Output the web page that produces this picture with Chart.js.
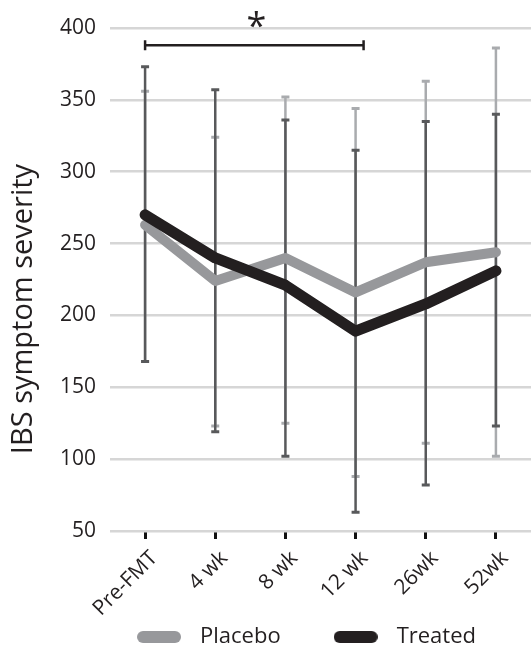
<!DOCTYPE html>
<html>
<head>
<meta charset="utf-8">
<script src="https://cdn.jsdelivr.net/npm/chart.js@4/dist/chart.umd.min.js"></script>
<style>
  html, body { margin: 0; padding: 0; background: #ffffff; }
  #wrap { width: 531px; height: 648px; }
</style>
</head>
<body>
<div id="wrap"><canvas id="c" width="531" height="648"></canvas></div>
<script>
// Time points after faecal microbiota transplantation
const categories = ['Pre-FMT', '4 wk', '8 wk', '12 wk', '26wk', '52wk'];

// Mean IBS symptom severity per group
const placeboMean = [263, 224, 240, 216, 237, 244];
const treatedMean = [270, 240, 221, 189, 208, 231];

// Error bar ends per group
const placeboLow  = [168, 123, 125, 88, 111, 102];
const placeboHigh = [356, 324, 352, 344, 363, 386];
const treatedLow  = [168, 119, 102, 63, 82, 123];
const treatedHigh = [373, 357, 336, 315, 335, 340];

// Significance bracket (Treated, Pre-FMT vs 12 wk)
const sigFrom = 'Pre-FMT';
const sigTo = '12 wk';
const sigLevel = 388;
const sigStarLevel = 405;
const sigLabel = '*';

const yTitle = 'IBS symptom severity';

const PLACEBO = '#97989b';
const TREATED = '#231f20';
const PLACEBO_BAR = '#a9abae';
const TREATED_BAR = '#58595b';
const TEXT = '#231f20';
const FONT = "'Open Sans', 'Noto Sans', sans-serif";

// Rounded legend swatch, drawn once per series
function pill(color) {
  const c = document.createElement('canvas');
  c.width = 44; c.height = 12;
  const g = c.getContext('2d');
  g.fillStyle = color;
  g.beginPath();
  g.roundRect(0, 0, 44, 12, 6);
  g.fill();
  return c;
}
const swatches = { Placebo: pill(PLACEBO), Treated: pill(TREATED) };

// Vertical whiskers with small caps, drawn behind the mean lines
const errorBars = {
  id: 'errorBars',
  beforeDatasetsDraw(chart) {
    const { ctx, scales: { x, y } } = chart;
    const drawSet = (lows, highs, color, width, capHalf) => {
      ctx.save();
      ctx.strokeStyle = color;
      ctx.lineCap = 'butt';
      lows.forEach((lo, i) => {
        const px = x.getPixelForValue(i);
        const yl = y.getPixelForValue(lo);
        const yh = y.getPixelForValue(highs[i]);
        ctx.lineWidth = width;
        ctx.beginPath();
        ctx.moveTo(px, yl);
        ctx.lineTo(px, yh);
        ctx.stroke();
        ctx.lineWidth = 3;
        ctx.beginPath();
        ctx.moveTo(px - capHalf, yl); ctx.lineTo(px + capHalf, yl);
        ctx.moveTo(px - capHalf, yh); ctx.lineTo(px + capHalf, yh);
        ctx.stroke();
      });
      ctx.restore();
    };
    drawSet(placeboLow, placeboHigh, PLACEBO_BAR, 2.5, 4);
    drawSet(treatedLow, treatedHigh, TREATED_BAR, 2.5, 4);
  }
};

// Significance bracket with asterisk, plus the rotated y-axis title
const annotations = {
  id: 'annotations',
  afterLayout(chart) {
    // let the rotated category labels run below the axis box
    chart.scales.x.bottom = chart.height;
    // move the legend row right, under the plot
    chart.legend.left += 37;
    chart.legend.right += 37;
  },
  afterDraw(chart) {
    const { ctx, scales: { x, y } } = chart;
    const x0 = x.getPixelForValue(categories.indexOf(sigFrom));
    const x1 = x.getPixelForValue(categories.indexOf(sigTo)) + 8;
    const yb = y.getPixelForValue(sigLevel);
    ctx.save();
    ctx.strokeStyle = TEXT;
    ctx.lineWidth = 2.5;
    ctx.beginPath();
    ctx.moveTo(x0, yb); ctx.lineTo(x1, yb);
    ctx.moveTo(x0, yb - 5); ctx.lineTo(x0, yb + 5);
    ctx.moveTo(x1, yb - 5); ctx.lineTo(x1, yb + 5);
    ctx.stroke();
    ctx.fillStyle = TEXT;
    ctx.font = `36px ${FONT}`;
    ctx.textAlign = 'center';
    ctx.textBaseline = 'middle';
    ctx.fillText(sigLabel, (x0 + x1) / 2 + 2, y.getPixelForValue(sigStarLevel) + 7);

    ctx.translate(24, 309);
    ctx.rotate(-Math.PI / 2);
    ctx.font = `29px ${FONT}`;
    ctx.fillText(yTitle, 0, 0);
    ctx.restore();
  }
};

const chart = new Chart(document.getElementById('c'), {
  type: 'line',
  data: {
    labels: categories,
    datasets: [
      {
        label: 'Placebo',
        data: placeboMean,
        borderColor: PLACEBO,
        backgroundColor: PLACEBO,
        borderWidth: 10,
        pointRadius: 0,
        tension: 0,
        borderCapStyle: 'round',
        borderJoinStyle: 'round',
        order: 1
      },
      {
        label: 'Treated',
        data: treatedMean,
        borderColor: TREATED,
        backgroundColor: TREATED,
        borderWidth: 11,
        pointRadius: 0,
        tension: 0,
        borderCapStyle: 'round',
        borderJoinStyle: 'round',
        order: 0
      }
    ]
  },
  options: {
    responsive: false,
    animation: false,
    devicePixelRatio: 1,
    layout: { padding: { top: 28, right: 0, left: 0, bottom: -10 } },
    scales: {
      x: {
        offset: true,
        border: { display: false },
        grid: {
          drawOnChartArea: false,
          drawTicks: true,
          tickLength: 8,
          tickWidth: 3,
          tickColor: '#111111'
        },
        ticks: {
          maxRotation: 45,
          minRotation: 45,
          padding: 7,
          labelOffset: 9,
          color: TEXT,
          font: { family: FONT, size: 21 }
        },
        afterFit(scale) { scale.height = 50; }
      },
      y: {
        min: 50,
        max: 400,
        border: { display: false },
        grid: { color: '#d6d6d6', lineWidth: 2.5, drawTicks: false },
        ticks: {
          stepSize: 50,
          padding: 14,
          color: TEXT,
          font: { family: FONT, size: 21 }
        },
        afterFit(scale) { scale.width = 110; }
      }
    },
    plugins: {
      tooltip: { enabled: false },
      legend: {
        position: 'bottom',
        fullSize: true,
        labels: {
          usePointStyle: true,
          pointStyleWidth: 60,
          padding: 45,
          color: TEXT,
          font: { family: FONT, size: 22 },
          generateLabels(chart) {
            const items = Chart.defaults.plugins.legend.labels.generateLabels(chart);
            items.sort((a, b) => a.datasetIndex - b.datasetIndex);
            items.forEach(it => { it.pointStyle = swatches[it.text]; it.lineWidth = 0; });
            return items;
          }
        }
      }
    }
  },
  plugins: [errorBars, annotations]
});
</script>
</body>
</html>
